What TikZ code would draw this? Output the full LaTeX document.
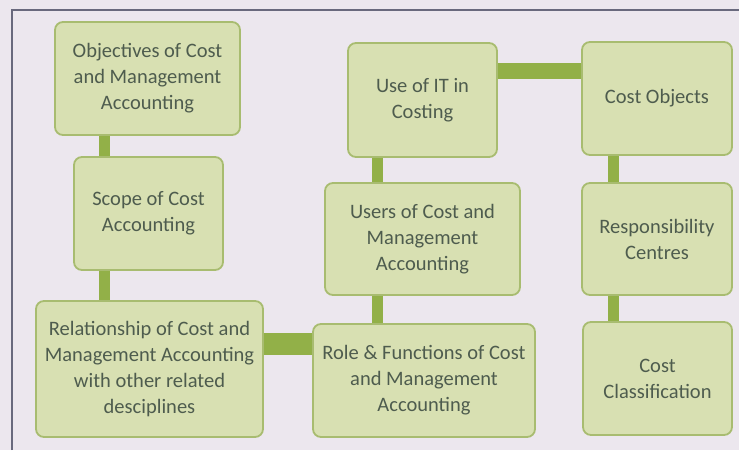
\documentclass[tikz,border=0pt]{standalone}
\usepackage{fontspec}
\setmainfont{Carlito}
\usetikzlibrary{positioning,backgrounds}

\definecolor{paper}{RGB}{236,231,238}
\definecolor{boxfill}{RGB}{216,224,178}
\definecolor{boxline}{RGB}{168,188,112}
\definecolor{linkgreen}{RGB}{146,176,72}
\definecolor{boxtext}{RGB}{78,92,78}
\definecolor{framegray}{RGB}{105,105,125}

\begin{document}
\begin{tikzpicture}[
  x=1pt, y=-1pt,
  topic/.style={draw=boxline, line width=1.8pt, fill=boxfill, rounded corners=8pt,
    align=center, text=boxtext, inner sep=2pt,
    font=\fontsize{20.5}{26}\selectfont},
  vlink/.style={linkgreen, line width=11pt},
  hlink/.style={linkgreen, line width=#1},
  every node/.style={anchor=center}]
  \useasboundingbox (0,0) rectangle (739,450);
  \draw[framegray, line width=2pt] (12,450) -- (12,10) -- (739,10);
  % left column
  \node[topic, minimum width=185pt, minimum height=113pt] (objectives) at (147.5,78.5)
    {Objectives of Cost\\and Management\\Accounting};
  \node[topic, minimum width=149pt, minimum height=113pt] (scope) at (148.5,213.5)
    {Scope of Cost\\Accounting};
  \node[topic, minimum width=227pt, minimum height=136pt] (relation) at (149.5,369)
    {Relationship of Cost and\\Management Accounting\\with other related\\desciplines};
  % middle column
  \node[topic, minimum width=149pt, minimum height=114pt] (itcosting) at (422.5,100)
    {Use of IT in\\Costing};
  \node[topic, minimum width=195pt, minimum height=112pt] (users) at (422.5,239)
    {Users of Cost and\\Management\\Accounting};
  \node[topic, minimum width=222pt, minimum height=113pt] (role) at (424,380.5)
    {Role \& Functions of Cost\\and Management\\Accounting};
  % right column
  \node[topic, minimum width=150pt, minimum height=113pt] (costobj) at (657,98.5)
    {Cost Objects};
  \node[topic, minimum width=150pt, minimum height=112pt] (respcentre) at (657,239)
    {Responsibility\\Centres};
  \node[topic, minimum width=149pt, minimum height=113pt] (costclass) at (657.5,378.5)
    {Cost\\Classification};
  % page colour and connectors behind the boxes
  \begin{scope}[on background layer]
    \fill[paper] (0,0) rectangle (739,450);
    \coordinate (lx) at ([xshift=31pt]scope.north west);
    \coordinate (mx) at ([xshift=30pt]itcosting.south west);
    \coordinate (rx) at ([xshift=32pt]respcentre.north west);
    \coordinate (ty) at ([yshift=-29pt]itcosting.north east);
    \coordinate (by) at ([yshift=-21pt]role.north west);
    \draw[vlink] (lx |- objectives.south) -- (lx |- scope.north);
    \draw[vlink] (lx |- scope.south) -- (lx |- relation.north);
    \draw[vlink] (mx |- itcosting.south) -- (mx |- users.north);
    \draw[vlink] (mx |- users.south) -- (mx |- role.north);
    \draw[vlink] (rx |- costobj.south) -- (rx |- respcentre.north);
    \draw[vlink] (rx |- respcentre.south) -- (rx |- costclass.north);
    \draw[hlink=16pt] (ty -| itcosting.east) -- (ty -| costobj.west);
    \draw[hlink=22pt] (by -| relation.east) -- (by -| role.west);
  \end{scope}
\end{tikzpicture}
\end{document}
